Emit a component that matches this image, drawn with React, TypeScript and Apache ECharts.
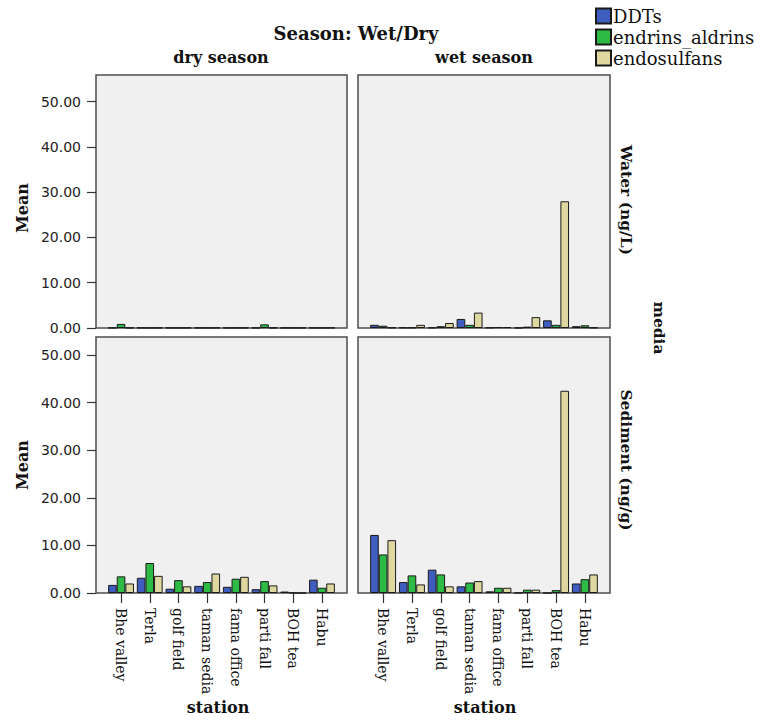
import React, { useEffect, useRef } from "react";
import * as echarts from "echarts";

const stations = ["Bhe valley", "Terla", "golf field", "taman sedia", "fama office", "parti fall", "BOH tea", "Habu"];
const seriesNames = ["DDTs", "endrins_aldrins", "endosulfans"];
const yTicks = [0, 10, 20, 30, 40, 50];

// Water (ng/L), dry season
const dryWaterDDTs = [0.05, 0.05, 0.05, 0.05, 0.05, 0.05, 0.05, 0.05];
const dryWaterEndrins = [0.9, 0.05, 0.05, 0.05, 0.05, 0.8, 0.05, 0.05];
const dryWaterEndosulfans = [0.05, 0.05, 0.05, 0.05, 0.05, 0.05, 0.05, 0.05];
// Water (ng/L), wet season
const wetWaterDDTs = [0.7, 0.1, 0.1, 2.0, 0.1, 0.05, 1.7, 0.4];
const wetWaterEndrins = [0.5, 0.1, 0.4, 0.7, 0.2, 0.3, 0.7, 0.6];
const wetWaterEndosulfans = [0.1, 0.7, 1.1, 3.4, 0.2, 2.4, 28.0, 0.1];
// Sediment (ng/g), dry season
const drySedDDTs = [1.7, 3.2, 0.9, 1.5, 1.3, 0.8, 0.3, 2.8];
const drySedEndrins = [3.5, 6.3, 2.7, 2.3, 3.0, 2.5, 0.05, 1.1];
const drySedEndosulfans = [2.0, 3.6, 1.4, 4.1, 3.4, 1.6, 0, 2.0];
// Sediment (ng/g), wet season
const wetSedDDTs = [12.2, 2.3, 4.9, 1.4, 0.35, 0.05, 0, 2.0];
const wetSedEndrins = [8.1, 3.7, 3.9, 2.2, 1.1, 0.7, 0.6, 2.9];
const wetSedEndosulfans = [11.1, 1.8, 1.4, 2.5, 1.1, 0.7, 42.5, 3.9];

const colors = ["#3f5cbf", "#2dbb45", "#ded8a0"];
const SERIF = "DejaVu Serif";

export default function App() {
  const ref = useRef<HTMLDivElement>(null);
  useEffect(() => {
    if (!ref.current) return;
    const chart = echarts.init(ref.current, null, { renderer: "svg" });

    const panels = [
      { left: 96, top: 75, width: 251, height: 253, max: 55.9, bottom: false, data: [dryWaterDDTs, dryWaterEndrins, dryWaterEndosulfans], yLabels: true },
      { left: 358, top: 75, width: 252, height: 253, max: 55.9, bottom: false, data: [wetWaterDDTs, wetWaterEndrins, wetWaterEndosulfans], yLabels: false },
      { left: 96, top: 337, width: 251, height: 256, max: 53.8, bottom: true, data: [drySedDDTs, drySedEndrins, drySedEndosulfans], yLabels: true },
      { left: 358, top: 337, width: 252, height: 256, max: 53.8, bottom: true, data: [wetSedDDTs, wetSedEndrins, wetSedEndosulfans], yLabels: false },
    ];
    const pad = 10.7;

    const grid: any[] = [];
    const xAxis: any[] = [];
    const yAxis: any[] = [];
    const series: any[] = [];

    panels.forEach((p) => {
      grid.push({
        left: p.left, top: p.top, width: p.width, height: p.height,
        show: true, backgroundColor: "#f0f0f0", borderColor: "#4d4d4d", borderWidth: 1.5,
      });
      xAxis.push({ type: "value", gridIndex: grid.length - 1, min: 0, max: 1, show: false });
      yAxis.push({
        type: "value", gridIndex: grid.length - 1, min: 0, max: p.max, interval: 10,
        show: p.yLabels,
        axisLine: { show: false },
        splitLine: { show: false },
        axisTick: { show: true, length: 9, customValues: yTicks, lineStyle: { color: "#333", width: 1.2 } },
        axisLabel: {
          customValues: yTicks, margin: 15, fontFamily: "DejaVu Sans", fontSize: 14, color: "#222",
          formatter: (v: number) => (v % 10 === 0 ? v.toFixed(2) : ""),
        },
      });
    });

    panels.forEach((p) => {
      const gi = grid.length;
      grid.push({ left: p.left + pad, top: p.top, width: p.width - 2 * pad, height: p.height, show: false });
      xAxis.push({
        type: "category", gridIndex: gi, data: stations,
        axisLine: { show: false },
        axisTick: { show: p.bottom, alignWithLabel: true, length: 10, lineStyle: { color: "#333", width: 1.2 } },
        axisLabel: {
          show: p.bottom, interval: 0, rotate: -90, margin: 15,
          fontFamily: SERIF, fontSize: 14, color: "#111",
        },
      });
      yAxis.push({ type: "value", gridIndex: gi, min: 0, max: p.max, show: false, splitLine: { show: false } });
      p.data.forEach((vals, k) => {
        series.push({
          type: "bar", name: seriesNames[k], xAxisIndex: gi, yAxisIndex: gi, data: vals,
          barGap: "0%", barCategoryGap: "10%",
          itemStyle: { color: colors[k], borderColor: "#1a1a1a", borderWidth: 1 },
        });
      });
    });

    const txt = (text: string, x: number, y: number, size: number, bold: boolean, rotation = 0) => ({
      type: "text", x, y, rotation,
      style: {
        text, fill: "#111", textAlign: "center", textVerticalAlign: "middle",
        font: `${bold ? "bold " : ""}${size}px "${SERIF}"`,
      },
    });

    chart.setOption({
      animation: false,
      backgroundColor: "#ffffff",
      grid, xAxis, yAxis, series,
      legend: {
        data: seriesNames, orient: "vertical", left: 595, top: 7,
        itemWidth: 15, itemHeight: 15, itemGap: 3, padding: 0, icon: "rect",
        textStyle: { fontFamily: SERIF, fontSize: 18, color: "#111", padding: [0, 0, 0, -3] },
      },
      graphic: [
        txt("Season: Wet/Dry", 356, 33, 18, true),
        txt("dry season", 221, 57, 16, true),
        txt("wet season", 484, 57, 16, true),
        txt("Mean", 22, 208, 16, true, Math.PI / 2),
        txt("Mean", 22, 465, 16, true, Math.PI / 2),
        txt("Water (ng/L)", 626, 200, 15.5, true, -Math.PI / 2),
        txt("Sediment (ng/g)", 626, 460, 15.5, true, -Math.PI / 2),
        txt("media", 659, 328, 15.5, true, -Math.PI / 2),
        txt("station", 218, 707, 16, true),
        txt("station", 485, 707, 16, true),
      ],
    });
    return () => chart.dispose();
  }, []);
  return (
    <div
      ref={ref}
      style={{ position: "absolute", left: 0, top: 0, width: 770, height: 721, background: "#fff" }}
    />
  );
}
